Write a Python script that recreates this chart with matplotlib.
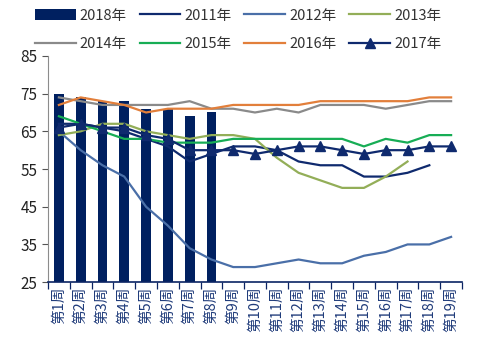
import numpy as np
import matplotlib
matplotlib.use('Agg')
import matplotlib.pyplot as plt

plt.rcParams['font.family'] = ['Noto Sans CJK SC', 'DejaVu Sans']

weeks = [f'第{i}周' for i in range(1, 20)]

bars_2018 = [75, 74, 73, 73, 71, 71, 69, 70]
y2011 = [67, 67, 66, 65, 63, 61, 57, 59, 61, 61, 60, 57, 56, 56, 53, 53, 54, 56]
y2012 = [65, 60, 56, 53, 45, 40, 34, 31, 29, 29, 30, 31, 30, 30, 32, 33, 35, 35, 37]
y2013 = [64, 65, 67, 67, 65, 64, 63, 64, 64, 63, 58, 54, 52, 50, 50, 53, 57]
y2014 = [74, 73, 72, 72, 72, 72, 73, 71, 71, 70, 71, 70, 72, 72, 72, 71, 72, 73, 73]
y2015 = [69, 67, 65, 63, 63, 62, 62, 62, 63, 63, 63, 63, 63, 63, 61, 63, 62, 64, 64]
y2016 = [72, 74, 73, 72, 70, 71, 71, 71, 72, 72, 72, 72, 73, 73, 73, 73, 73, 74, 74]
y2017 = [66, 67, 66, 66, 64, 63, 60, 60, 60, 59, 60, 61, 61, 60, 59, 60, 60, 61, 61]

navy = '#0B2463'
fig = plt.figure(figsize=(4.8, 3.54), dpi=100)
ax = fig.add_axes([0.1, 0.203, 0.8625, 0.639])

x = np.arange(len(weeks))
h_bar = ax.bar(x[:len(bars_2018)], bars_2018, width=0.45, color='#002060', zorder=2, label='2018年')

lw = 1.6
h11, = ax.plot(x[:len(y2011)], y2011, color='#0F2A6E', lw=lw, zorder=3, label='2011年')
h12, = ax.plot(x[:len(y2012)], y2012, color='#4A6FA8', lw=lw, zorder=3, label='2012年')
h13, = ax.plot(x[:len(y2013)], y2013, color='#93AE58', lw=lw, zorder=3, label='2013年')
h14, = ax.plot(x[:len(y2014)], y2014, color='#8A8A8A', lw=lw, zorder=3, label='2014年')
h15, = ax.plot(x[:len(y2015)], y2015, color='#17AD55', lw=lw, zorder=3, label='2015年')
h16, = ax.plot(x[:len(y2016)], y2016, color='#E27F3B', lw=lw, zorder=3, label='2016年')
h17, = ax.plot(x[:len(y2017)], y2017, color='#0F2A6E', lw=lw, marker='^', ms=7, zorder=4, label='2017年')

ax.set_xlim(-0.5, len(weeks) - 0.5)
ax.set_ylim(25, 85)
ax.set_yticks([25, 35, 45, 55, 65, 75, 85])
ax.tick_params(axis='y', labelsize=11, colors='#555555', labelcolor='#222222', length=4, width=0.8)

# category ticks sit between the labels, Excel style
ax.set_xticks(np.arange(-0.5, len(weeks), 1.0))
ax.set_xticklabels([])
ax.set_xticks(x, minor=True)
ax.set_xticklabels(weeks, minor=True, rotation=90, fontsize=10.5, color='#1F3B7A')
ax.tick_params(axis='x', which='major', length=5, width=0.9, color=navy)
ax.tick_params(axis='x', which='minor', length=0, pad=3)

for s in ['top', 'right']:
    ax.spines[s].set_visible(False)
ax.spines['left'].set_color('#8C8C8C')
ax.spines['bottom'].set_color(navy)
ax.spines['bottom'].set_linewidth(1.2)

handles = [h_bar, h11, h12, h13, h14, h15, h16, h17]
order = [0, 4, 1, 5, 2, 6, 3, 7]
fig.legend([handles[i] for i in order], [handles[i].get_label() for i in order],
           ncol=4, loc='upper left', bbox_to_anchor=(0.045, 1.013), frameon=False,
           fontsize=10.5, handlelength=2.8, handletextpad=0.3, columnspacing=0.85,
           labelspacing=1.0, labelcolor='#333333')

fig.savefig('out.png', dpi=100)
